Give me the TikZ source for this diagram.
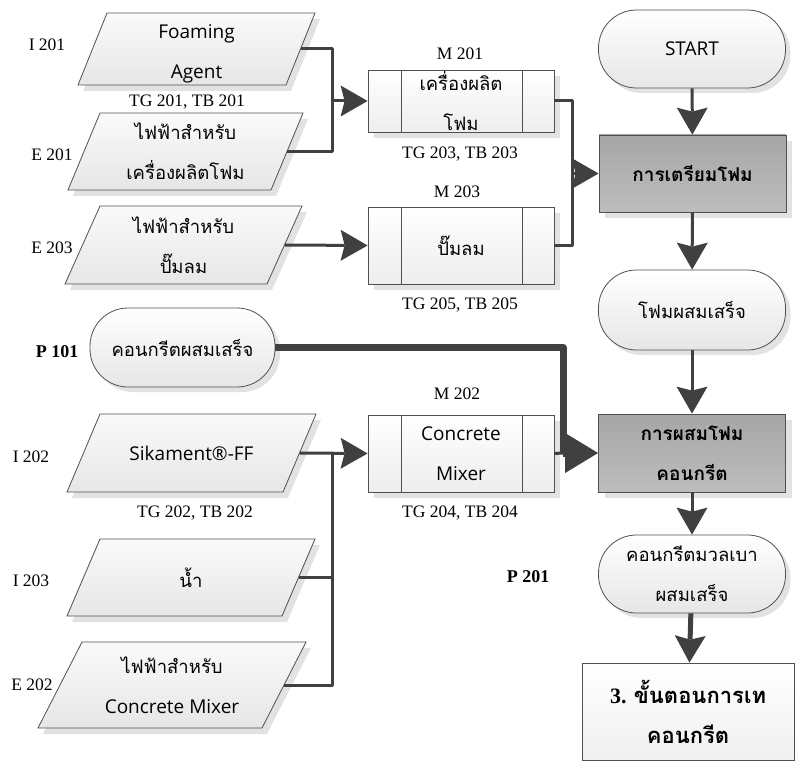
\documentclass[tikz,border=0pt]{standalone}
\usepackage{fontspec}
\setmainfont{Liberation Serif}
\newfontfamily\thaifont[Script=Thai]{Loma}
\newfontfamily\uifont{Open Sans}
\usetikzlibrary{arrows.meta,calc,shadows}

\definecolor{ink}{HTML}{404040}
\definecolor{edge}{HTML}{505050}
\definecolor{shadowc}{HTML}{E2E2E2}
\definecolor{paletop}{HTML}{FAFAFA}
\definecolor{palebot}{HTML}{E6E6E6}
\definecolor{darktop}{HTML}{A6A6A6}
\definecolor{darkbot}{HTML}{BDBDBD}

\tikzset{
  boxfont/.style={font=\thaifont\fontsize{18.5}{40}\selectfont},
  tagfont/.style={font=\fontsize{17.5}{20}\selectfont},
  para/.style={draw=edge, line width=0.8pt, top color=paletop, bottom color=palebot},
  datatext/.style={boxfont, inner sep=0pt, align=center},
  procbox/.style={boxfont, draw=edge, line width=0.8pt, inner sep=0pt, align=center,
    minimum width=186pt, top color=white, bottom color=palebot!70!white,
    drop shadow={shadow xshift=6pt, shadow yshift=-6pt, fill=shadowc, opacity=1}},
  termbox/.style={boxfont, draw=edge, line width=0.8pt, inner sep=0pt, align=center,
    minimum width=187pt, minimum height=78pt, rounded corners=38pt,
    top color=white, bottom color=palebot,
    drop shadow={shadow xshift=5pt, shadow yshift=-5pt, fill=shadowc, opacity=1}},
  stepbox/.style={boxfont, font=\thaifont\bfseries\fontsize{19}{40}\selectfont,
    draw=edge, line width=0.8pt, inner sep=0pt, align=center,
    minimum width=187pt, top color=darktop, bottom color=darkbot,
    drop shadow={shadow xshift=6pt, shadow yshift=-6pt, fill=shadowc, opacity=1}},
  tag/.style={tagfont, inner sep=0pt},
  boldtag/.style={tagfont, font=\bfseries\fontsize{18}{20}\selectfont, inner sep=0pt},
  conn/.style={draw=ink, line width=3pt, line join=round},
  pointed/.style={-{Stealth[length=27pt, width=31pt, inset=4pt, line width=0pt]}},
  bigpointed/.style={-{Triangle[length=33pt, width=40pt, line width=0pt]}},
  heavy/.style={draw=ink, line width=7pt, line join=round},
}

\newcommand\ui[1]{{\uifont\fontsize{19}{40}\selectfont #1}}

% data (parallelogram) shape: name, centre x, centre y, width, height, slant, text
\newcommand\datashape[7]{%
  \fill[shadowc] ({#2-#4/2+#6/2+5},{#3-#5/2+6}) -- ({#2+#4/2+#6/2+5},{#3-#5/2+6})
    -- ({#2+#4/2-#6/2+5},{#3+#5/2+6}) -- ({#2-#4/2-#6/2+5},{#3+#5/2+6}) -- cycle;
  \draw[para] ({#2-#4/2+#6/2},{#3-#5/2}) -- ({#2+#4/2+#6/2},{#3-#5/2})
    -- ({#2+#4/2-#6/2},{#3+#5/2}) -- ({#2-#4/2-#6/2},{#3+#5/2}) -- cycle;
  \node[datatext, minimum width=#4pt, minimum height=#5pt] (#1) at (#2,#3) {#7};
}

% predefined-process box side bars
\newcommand\sidebars[1]{%
  \draw[edge, line width=0.8pt] ($(#1.north west)+(34,0)$) -- ($(#1.south west)+(34,0)$);
  \draw[edge, line width=0.8pt] ($(#1.north east)+(-32,0)$) -- ($(#1.south east)+(-32,0)$);
}

\begin{document}
\begin{tikzpicture}[x=1pt, y=-1pt]
\useasboundingbox (0,0) rectangle (795,762);

% ---- inputs ----
\datashape{foam}{196.5}{49}{208}{72}{29}{\rule{0pt}{24pt}\ui{Foaming}\\\ui{Agent}}
\datashape{elfoam}{185.5}{151.5}{203}{77}{32}{ไฟฟ้าสำหรับ\\เครื่องผลิตโฟม}
\datashape{elpump}{183.5}{245}{202}{78}{35}{ไฟฟ้าสำหรับ\\ปั๊มลม}
\datashape{sika}{191.5}{453}{216}{78}{33}{\ui{Sikament®-FF}}
\datashape{water}{191}{577.5}{215}{77}{33}{น้ำ}
\datashape{elmix}{172}{685}{224}{86}{44}{ไฟฟ้าสำหรับ\\\ui{Concrete Mixer}}

% ---- machines ----
\node[procbox, minimum height=62pt] (m201) at (461,101) {เครื่องผลิต\\โฟม};
\sidebars{m201}
\node[procbox, minimum height=77pt] (m203) at (461,245.5) {ปั๊มลม};
\sidebars{m203}
\node[procbox, minimum height=77pt] (m202) at (461,453.5) {\ui{Concrete}\\\ui{Mixer}};
\sidebars{m202}

% ---- main flow ----
\node[termbox] (start) at (692,49) {\ui{START}};
\node[stepbox, minimum height=77pt] (prep) at (692.5,173.5) {การเตรียมโฟม};
\node[termbox, minimum height=80pt] (foamdone) at (692,310) {โฟมผสมเสร็จ};
\node[stepbox, minimum height=78pt] (mix) at (692,453) {การผสมโฟม\\คอนกรีต};
\node[termbox] (lightdone) at (692,574) {คอนกรีตมวลเบา\\ผสมเสร็จ};
\node[draw=edge, line width=0.8pt, inner sep=0pt, align=center,
      minimum width=212pt, minimum height=97pt, top color=white, bottom color=palebot!60!white,
      font=\bfseries\fontsize{22}{40}\selectfont] (pour) at (688,711.5)
      {3. {\thaifont ขั้นตอนการเท}\\{\thaifont คอนกรีต}};

\node[termbox, minimum width=185pt, minimum height=79pt] (p101) at (182.5,347.5) {คอนกรีตผสมเสร็จ};

% ---- tags ----
\node[tag] (tI201) at (47,45) {I 201};
\node[tag] (tTG201) at (187,102) {TG 201, TB 201};
\node[tag] (tE201) at (52,155) {E 201};
\node[tag] (tE203) at (52,248) {E 203};
\node[tag] (tM201) at (460,54) {M 201};
\node[tag] (tTG203) at (460,154) {TG 203, TB 203};
\node[tag] (tM203) at (457,192) {M 203};
\node[tag] (tTG205) at (460,305) {TG 205, TB 205};
\node[boldtag] (tP101) at (57,352) {P 101};
\node[tag] (tM202) at (457,394) {M 202};
\node[tag] (tI202) at (31,457) {I 202};
\node[tag] (tTG202) at (195,513) {TG 202, TB 202};
\node[tag] (tTG204) at (460,513) {TG 204, TB 204};
\node[tag] (tI203) at (31,581) {I 203};
\node[boldtag] (tP201) at (528,577) {P 201};
\node[tag] (tE202) at (32,685) {E 202};

% ---- junctions ----
\coordinate (jfoam) at (332,101);
\coordinate (jprep) at (572,173.5);
\coordinate (jmix) at (332,453.5);
\coordinate (jp101) at (563,453);

% ---- connectors ----
\draw[conn] (foam.east) -| (jfoam);
\draw[conn] (elfoam.east) -| (jfoam);
\draw[conn, pointed] (jfoam) -- (m201.west);
\draw[conn, pointed] (elpump.east) -- (m203.west);

\draw[conn] (m201.east) -| (jprep);
\draw[conn] (m203.east) -| (jprep);
\draw[conn, pointed] (jprep) -- (prep.west);

\draw[conn, pointed] (sika.east) -- (m202.west);
\draw[conn] (water.east) -| (jmix);
\draw[conn] (elmix.east) -| (jmix);

\draw[conn] (m202.east) -- (jp101);
\draw[heavy] (p101.east) -| (jp101);
\draw[heavy, bigpointed] (jp101) -- (mix.west);

\draw[conn, pointed] (start) -- (prep);
\draw[conn, pointed] (prep) -- (foamdone);
\draw[conn, pointed] (foamdone) -- (mix);
\draw[conn, pointed] (mix) -- (lightdone);
\draw[conn, line width=5pt, pointed] (lightdone) -- (pour);
\end{tikzpicture}
\end{document}
